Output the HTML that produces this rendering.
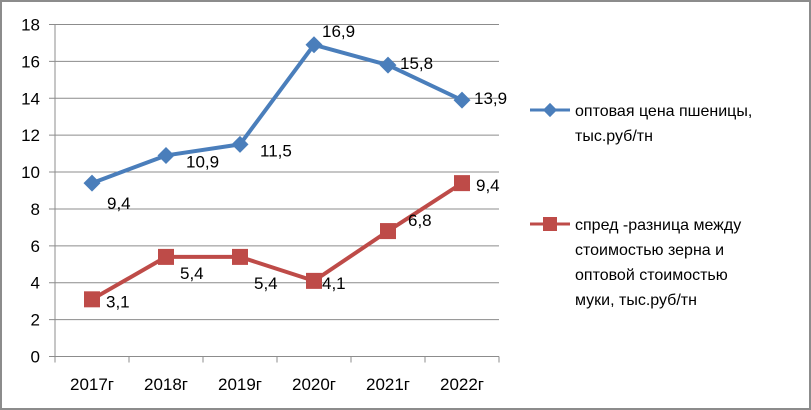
<!DOCTYPE html>
<html><head><meta charset="utf-8"><style>
body{margin:0;background:#fff}
svg{display:block;font-family:"Liberation Sans",sans-serif}
</style></head><body>
<svg width="811" height="410">
<rect x="1" y="1" width="809" height="408" fill="#fff" stroke="#8c8c8c" stroke-width="2"/>
<g id="grid"></g><g id="axes"></g><g id="series"></g><g id="labels"></g>
<g font-size="16" fill="#000">
 <g>
  <line x1="530" y1="110" x2="570" y2="110" stroke="#4a7ebb" stroke-width="3"/>
  <rect x="545" y="105" width="10" height="10" fill="#4a7ebb" transform="rotate(45 550 110)"/>
  <text x="575" y="116">оптовая цена пшеницы,</text>
  <text x="575" y="141">тыс.руб/тн</text>
 </g>
 <g>
  <line x1="530" y1="224" x2="570" y2="224" stroke="#be4b48" stroke-width="3"/>
  <rect x="543" y="217" width="14" height="14" fill="#be4b48"/>
  <text x="575" y="230">спред -разница между</text>
  <text x="575" y="255">стоимостью зерна и</text>
  <text x="575" y="280">оптовой стоимостью</text>
  <text x="575" y="305">муки, тыс.руб/тн</text>
 </g>
</g>
</svg>
<script>
const categories=["2017г","2018г","2019г","2020г","2021г","2022г"];
const wheat=[9.4,10.9,11.5,16.9,15.8,13.9];
const spread=[3.1,5.4,5.4,4.1,6.8,9.4];
const yTicks=[0,2,4,6,8,10,12,14,16,18];
const wheatLabels=["9,4","10,9","11,5","16,9","15,8","13,9"];
const spreadLabels=["3,1","5,4","5,4","4,1","6,8","9,4"];
const NS="http://www.w3.org/2000/svg";
const x0=55,x1=499,yTop=24.5,yBot=356.5,yMax=18;
const band=(x1-x0)/categories.length;
const xs=i=>x0+band*(i+0.5);
const ys=v=>yBot-(v/yMax)*(yBot-yTop);
function mk(tag,attrs,parent,txt){const e=document.createElementNS(NS,tag);for(const k in attrs)e.setAttribute(k,attrs[k]);if(txt!==undefined)e.textContent=txt;parent.appendChild(e);return e;}
const grid=document.getElementById('grid'),axes=document.getElementById('axes'),ser=document.getElementById('series'),lab=document.getElementById('labels');
yTicks.forEach(t=>{
 const l=mk('line',{x1:49,x2:x1,y1:ys(t),y2:ys(t),stroke:'#8c8c8c','stroke-width':1},grid);
 
 
 const tx=mk('text',{x:40,y:ys(t)+6,'text-anchor':'end','font-size':17},axes,String(t));
 
 
});
mk('line',{x1:x0,x2:x0,y1:yTop,y2:yBot,stroke:'#8c8c8c'},axes);
for(let i=0;i<=categories.length;i++){
 mk('line',{x1:x0+band*i,x2:x0+band*i,y1:yBot,y2:yBot+6,stroke:'#8c8c8c'},axes);
}
categories.forEach((c,i)=>{
 const t=mk('text',{x:xs(i),y:390,'text-anchor':'middle','font-size':17},axes,c);
 
 
});
function line(data,color,name){
 const p=mk('polyline',{points:data.map((v,i)=>xs(i)+','+ys(v)).join(' '),fill:'none',stroke:color,'stroke-width':4,'stroke-linejoin':'round'},ser);
 
 
}
line(wheat,'#4a7ebb','wheat');
line(spread,'#be4b48','spread');
wheat.forEach((v,i)=>{
 const r=mk('rect',{x:xs(i)-6,y:ys(v)-6,width:12,height:12,fill:'#4a7ebb',transform:`rotate(45 ${xs(i)} ${ys(v)})`},ser);
 
 
});
spread.forEach((v,i)=>{
 const r=mk('rect',{x:xs(i)-8,y:ys(v)-8,width:16,height:16,fill:'#be4b48'},ser);
 
 
});
const wOff=[[15,26],[20,12],[20,12],[8,-8],[12,4],[12,4]];
const sOff=[[14,8],[14,22],[14,32],[8,8],[20,-5],[14,8]];
wheat.forEach((v,i)=>{
 const t=mk('text',{x:xs(i)+wOff[i][0],y:ys(v)+wOff[i][1],'font-size':17},lab,wheatLabels[i]);
 
 
});
spread.forEach((v,i)=>{
 const t=mk('text',{x:xs(i)+sOff[i][0],y:ys(v)+sOff[i][1],'font-size':17},lab,spreadLabels[i]);
 
 
});
</script>
</body></html>
